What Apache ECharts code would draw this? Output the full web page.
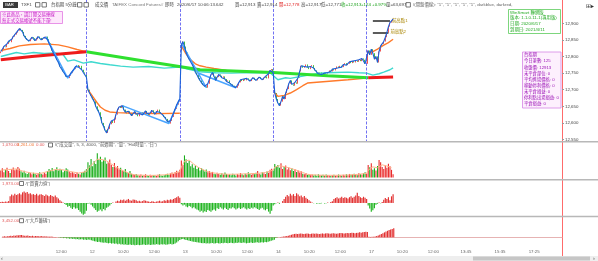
<!DOCTYPE html>
<html><head><meta charset="utf-8">
<script src="https://cdn.jsdelivr.net/npm/echarts@6/dist/echarts.min.js"></script>
<style>html,body{margin:0;padding:0;background:#fff;overflow:hidden}#c{width:598px;height:261px}</style>
</head><body><div id="c"></div>
<script>
// ================= DATA =================
// 5-minute closes, TXF1, per trading day (11 partial, 12, 13, 14, 17 partial)
const day11Close=[12815,12822,12830,12828,12838,12846,12843,12852,12860,12866,
12872,12878,12884,12880,12874,
12862,12855,12850,12846,12852,12858,12855,12848,12852,12860,12856,12850,12854,12858,12860,
12852,12840,12830,12818,12808,12800,12790,12782,12770,12764,12755,12748,12740,12735,
12742,12750,12756,12762,12770,12774,12768,12772,
12760,12752,12748,12738];
const day12Close=[12700,12690,12682,12672,12665,12650,12640,12632,12618,12600,
12590,12578,12570,12582,12596,12606,12600,12610,12625,12640,
12648,12645,12652,12640,12632,12628,12635,12630,12622,12628,
12634,12626,12620,12628,12632,12624,12630,12636,12628,12622,
12630,12638,12632,12626,12634,12640,12632,12628,12624,12618,
12612,12604,12598,12606,12618,12630,12642,12655,12664,12672];
const day13Close=[12835,12845,12830,12812,12800,12792,12786,12775,12765,12752,
12745,12735,12728,12720,12714,12710,12706,12718,12732,12745,
12752,12740,12728,12738,12746,12742,12736,12740,12732,12725,
12728,12720,12716,12712,12710,12706,12712,12722,12730,12726,
12732,12728,12734,12730,12726,12732,12736,12730,12728,12734,
12738,12732,12730,12736,12740,12734,12748,12758,12762,12752];
const day14Close=[12690,12672,12660,12652,12664,12680,12672,12690,12702,12718,
12728,12716,12712,12722,12718,12736,12755,12772,12766,12770,
12776,12768,12762,12770,12774,12765,12758,12752,12748,12752,
12746,12744,12750,12748,12752,12758,12755,12762,12758,12764,
12770,12766,12772,12768,12776,12780,12774,12778,12784,12780,
12786,12782,12788,12784,12790,12786,12794,12790,12778,12782];
const day17Close=[12818,12805,12822,12810,12792,12800,12782,12815,12832,12838,12845,12858,12872,12890,12902,12908,12913];
const dayOpen=[12810,12712,12818,12700,12778]; // open of the first bar of each day

// volume per bar
const day11Vol=[2400,3100,1800,2600,3300,2200,1500,2900,3400,2500,
2800,3600,3000,2100,1700,2300,1400,1200,1900,1500,
1100,1600,1300,900,1400,1800,1200,1000,1500,1300,
2200,2900,2500,3200,2100,2700,3500,2400,3000,2600,
1800,2300,3100,2700,2000,1600,1900,1400,1200,1700,
1300,1000,1500,1900,2300,2800];
const day12Vol=[5200,4100,6300,3800,5600,4600,8200,6100,7000,5300,
5900,6800,4700,5200,6100,4300,3600,4900,3400,3900,
2800,3300,2400,2100,2900,1800,1500,2200,1300,1100,
900,1200,800,700,1000,600,800,1100,700,500,
900,600,800,700,500,900,1100,700,600,800,
1000,1300,900,1400,1700,1200,1900,2300,1800,2600];
const day13Vol=[5800,4200,7500,6200,4900,5600,3800,4500,3300,4100,
2900,3500,2400,3100,2600,2000,2700,1800,2200,1500,
1900,1300,1100,1600,1200,900,1400,1000,1700,1200,
900,1100,800,1300,1000,700,1200,900,1500,1100,
800,1300,1000,1800,1200,900,1400,1100,1600,2200,
1300,1000,1800,1400,1200,2000,1600,2600,3000,2400];
const day14Vol=[4600,3800,4200,3300,4800,2900,3600,4100,2700,3400,
2500,3100,2200,2800,1900,2400,1700,2100,1300,1100,
1500,900,1200,800,1000,700,900,600,1100,800,
700,900,600,1000,800,700,500,800,900,600,
700,1000,800,600,900,700,1100,800,1200,900,
1000,1300,1100,800,1400,1200,1000,1500,1800,1300];
const day17Vol=[4200,3500,4800,2600,3100,2400,3900,5900,5200,3600,2900,4100,3300,4700,3800,2600,1070];
const volMA=[[0,2500],[5,2700],[10,2900],[15,2000],[20,1500],[25,1300],[30,2000],[35,2700],[40,2600],[45,2000],[50,1500],[55,2000],
[56,3000],[59,4600],[62,6200],[65,6100],[68,5600],[71,4600],[74,3500],[77,2700],[80,2000],[83,1300],[86,900],[90,800],[95,700],[100,750],[105,900],[110,1300],[115,2000],
[116,3500],[118,5500],[121,5900],[124,4500],[127,3400],[130,2600],[133,2000],[136,1600],[140,1300],[145,1100],[150,1100],[155,1200],[160,1300],[165,1400],[170,1700],[175,2500],
[176,3500],[179,4000],[182,3700],[185,3300],[188,2800],[191,2300],[194,1700],[197,1100],[200,900],[205,800],[210,750],[215,750],[220,800],[225,900],[230,1100],[235,1400],
[236,2500],[239,3600],[242,3300],[245,4300],[248,3900],[251,3300]];

// 買賣力道
const day11Force=[200,250,180,300,260,400,
1500,1900,1700,2100,1800,2000,2200,1900,2400,2600,2300,2500,2100,2200,1900,2000,1800,2100,1700,1900,2000,1800,1600,1900,1700,1500,1800,1600,1400,1700,
1300,1000,600,300,100,
-200,-500,-900,-700,-1100,-1400,-1000,-1300,-1200,-1600,-2000,-2400,-2700,-2500,-1800];
const day12Force=[-200,-100,-400,-800,
-1200,-1600,-2000,-1800,-1500,-1900,-1400,-1700,-1100,-900,-600,
-200,100,0,
300,500,400,700,600,800,500,700,900,600,500,800,700,600,400,500,300,400,600,500,400,300,200,400,300,200,300,400,500,300,400,600,500,700,600,800,700,900,
1100,1300,1500,1200];
const day13Force=[-300,-600,-400,-800,-1000,-700,-900,-1200,-1000,-1300,-1500,
-1700,-2000,-1800,-2200,-1900,-2100,-1600,-1800,-2000,-1700,-1500,-1800,
-1200,-1400,-1000,-1300,-1500,-1100,-1400,-1600,-1200,-1300,-1000,-1200,-1500,-1300,-1100,-1400,-1200,-1000,-1300,-1500,-1200,-1400,-1100,-1300,-1000,-1200,-1400,-1600,-1300,-1100,-1500,-1700,-1400,
-2000,-2500,-1800,-600];
const day14Force=[-300,-100,100,-200,0,400,
900,1400,1800,1500,2100,1700,2000,1600,2200,1900,1500,1700,1300,1600,1200,900,600,300,100,-100,0,-200,
-100,-200,-100,0,-150,-100,100,0,200,400,
900,1100,1300,1000,1200,1400,1100,1300,1200,1000,1300,1500,1200,1400,1700,2300,1600,1300,1100,1400,1200,900];
const day17Force=[-600,-1300,-2000,-1700,-1200,-400,-200,100,-100,200,700,1100,900,1300,600,1500,1973];

// 大戶籌碼
const day11Big=[300,400,350,450,500,600,550,700,650,800,750,900,850,700,650,600,700,550,500,600,
450,500,550,400,450,500,350,400,300,350,250,300,200,150,100,50,-100,-200,-150,-300,
-250,-400,-350,-500,-450,-600,-550,-700,-650,-800,-750,-700,-900,-850,-1000,-800];
const day12Big=[-900,-1100,-1300,-1500,-1600,-1800,-1700,-1900,-2000,-2100,
-2000,-2200,-2300,-2200,-2400,-2300,-2500,-2400,-2600,-2500,
-2700,-2600,-2800,-2700,-2900,-2800,-2700,-2900,-2800,-3000,
-2900,-2800,-3000,-2900,-2800,-2700,-2900,-2800,-2700,-2900,
-2800,-2700,-2800,-2600,-2700,-2800,-2600,-2700,-2600,-2800,
-2700,-2600,-2500,-2700,-2600,-2400,-2000,-1500,-1000,-700];
const day13Big=[-600,-800,-1000,-1100,-1300,-1400,-1600,-1700,-1800,-1900,
-2000,-2100,-2200,-2300,-2200,-2400,-2300,-2400,-2300,-2200,
-2400,-2300,-2200,-2300,-2400,-2200,-2300,-2100,-2200,-2300,
-2200,-2100,-2200,-2300,-2100,-2200,-2000,-2100,-2200,-2000,
-2100,-2300,-2200,-2100,-2000,-2200,-2100,-2000,-1900,-2100,
-2000,-1900,-2000,-1800,-1900,-1700,-1500,-1300,-1100,-900];
const day14Big=[-300,-100,0,100,200,300,400,500,600,800,
1000,1200,1300,1400,1300,1400,1500,1400,1300,1400,
1500,1400,1300,1400,1500,1400,1500,1400,1300,1400,
1500,1400,1500,1600,1500,1400,1500,1600,1500,1400,
1500,1600,1700,1600,1500,1600,1700,1600,1700,1800,
1700,1600,1700,1800,1900,1800,1900,2000,2100,2000];
const day17Big=[200,150,250,200,300,500,700,1000,1300,1600,1900,2200,2500,2800,3000,3200,3452];

// overlay lines on the price panel: [bar index, price]
const avgLineDays=[
 [[0,12818],[6,12824],[12,12832],[19,12836],[28,12838],[37,12835],[43,12829],[49,12821],[55,12814]],
 [[56,12700],[59,12680],[62,12660],[64,12648],[67,12638],[70,12633],[75,12631],[85,12629],[100,12628],[115,12629]],
 [[116,12832],[119,12808],[122,12790],[125,12778],[128,12772],[132,12768],[137,12764],[145,12758],[158,12754],[175,12753]],
 [[176,12690],[178,12680],[182,12683],[186,12690],[190,12700],[194,12712],[197,12720],[207,12724],[215,12727],[223,12730],[235,12735]],
 [[236,12810],[239,12815],[242,12822],[246,12834],[249,12842],[252,12852]]
];
const cyanLine=[[0,12800],[5,12806],[10,12812],[15,12808],[21,12812],[28,12809],[35,12811],[40,12806],[43,12786],[47,12790],[53,12780],[58,12784],[64,12779],[70,12775],[77,12771],[85,12768],[95,12770],[105,12765],[115,12768],[120,12762],[128,12754],[138,12751],[148,12750],[160,12752],[173,12751],[178,12730],[183,12736],[186,12734],[195,12742],[205,12750],[215,12752],[223,12753],[230,12751],[235,12750],[239,12744],[243,12748],[246,12753],[250,12760],[252,12766]];
const longMARise=[[0,12790],[20,12800],[40,12808],[55,12814]];
const longMAFall=[[55,12814],[90,12788],[128,12760],[175,12752],[210,12742],[236,12736]];
const longMARise2=[[236,12736],[252,12738]];
const zigzagSegs=[[[29,12860],[43,12735],[49,12774]],[[78,12652],[108,12598],[115,12672]],[[116,12840],[132,12706]],[[126,12752],[151,12706]]];
const prevHighs=[{name:'前高點1',value:12907,from:239,to:250},{name:'前高點2',value:12873,from:239,to:249}];
const lastPrice=12913, volLast=1070, volPrev=3261, forceLast=1973, bigLast=3452;

// x axis tick labels
const totalSlots=361;
const tickIdx=[34,56,74,94,116,134,154,176,194,214,236,254,274,295,317,339];
const tickText=['12:00','12','10:20','12:00','13','10:20','12:00','14','10:20','12:00','17','10:20','12:00','13:45','15:35','17:25'];

// ================= BUILD =================
const FONT="'Liberation Sans','Noto Sans CJK TC',sans-serif";
const UP='#ea2a2a', DN='#18ad18';
const closeDays=[day11Close,day12Close,day13Close,day14Close,day17Close];
const closes=[].concat(...closeDays);
const starts=[];{let s=0;closeDays.forEach(d=>{starts.push(s);s+=d.length;});}
const dayEnds=starts.slice(1).map(v=>v-1);
const candles=closes.map((c,i)=>{const k=starts.indexOf(i);const o=k>=0?dayOpen[k]:closes[i-1];return [o,c,Math.min(o,c),Math.max(o,c)];});
const vol=[].concat(day11Vol,day12Vol,day13Vol,day14Vol,day17Vol);
const force=[].concat(day11Force,day12Force,day13Force,day14Force,day17Force);
const big=[].concat(day11Big,day12Big,day13Big,day14Big,day17Big);
const cats=new Array(totalSlots).fill('');
tickIdx.forEach((k,j)=>{cats[k]=tickText[j];});
function joinSegs(segs){const out=[];segs.forEach((sg,j)=>{if(j>0)out.push([sg[0][0],null]);sg.forEach(p=>out.push(p));});return out;}
const fmt2=v=>v.toLocaleString('en-US',{minimumFractionDigits:2,maximumFractionDigits:2});

const grids=[
 {left:0,right:36,top:6.7,height:132.8},
 {left:0,right:36,top:148,height:29.5},
 {left:0,right:36,top:181,height:35},
 {left:0,right:36,top:218,height:29},
 {left:0,right:36,top:0,height:256}
];
const xAxes=grids.map((g,i)=>({type:'category',gridIndex:i,data:cats,boundaryGap:true,show:i===3,
 axisLine:{show:i===3,lineStyle:{color:'#e6b3b3',width:1}},axisTick:{show:false},splitLine:{show:false},
 axisLabel:{show:i===3,interval:0,fontSize:4.4,color:'#666',align:'left',margin:2.5,fontFamily:FONT}}));
const yAxes=[
 {type:'value',gridIndex:0,position:'right',min:12550,max:12950,interval:50,axisLine:{show:false},
  axisTick:{show:true,length:2,lineStyle:{color:'#999'}},splitLine:{show:false},
  axisLabel:{fontSize:4.4,color:'#444',margin:3,showMaxLabel:false,fontFamily:FONT,formatter:v=>v.toLocaleString('en-US')}},
 {type:'value',gridIndex:1,min:0,max:10000,show:false},
 {type:'value',gridIndex:2,min:-3000,max:5000,show:false},
 {type:'value',gridIndex:3,min:-3700,max:7400,show:false},
 {type:'value',gridIndex:4,min:0,max:256,inverse:true,position:'right',axisLine:{show:true,lineStyle:{color:'#ff6b6b',width:1}},axisTick:{show:false},axisLabel:{show:false},splitLine:{show:false}}
];
const lineBase={type:'line',xAxisIndex:0,yAxisIndex:0,symbol:'none',silent:true,connectNulls:false};
function tag(val,text,bg){return {yAxis:val,lineStyle:{opacity:0},label:{show:true,position:'end',formatter:text,backgroundColor:bg,color:'#fff',fontSize:4.4,fontFamily:FONT,padding:[0.8,2,0.6,2],distance:4}};}
function redTag(val){return {yAxis:val,lineStyle:{opacity:0},label:{show:true,position:'end',formatter:fmt2(val),backgroundColor:'#cc1515',color:'#fff',fontSize:4.4,fontFamily:FONT,padding:[0.8,8,0.6,2],distance:4}};}
function plain(val,text){return {yAxis:val,lineStyle:{opacity:0},label:{show:true,position:'end',formatter:text,color:'#444',fontSize:4.4,fontFamily:FONT,distance:4}};}

const series=[
 {type:'candlestick',xAxisIndex:0,yAxisIndex:0,data:candles,barWidth:'75%',silent:true,z:2,
  itemStyle:{color:UP,color0:DN,borderColor:UP,borderColor0:DN,borderWidth:0.8}},
 Object.assign({},lineBase,{data:cyanLine,lineStyle:{color:'#3fd9cf',width:1.4},z:3}),
 Object.assign({},lineBase,{data:joinSegs(avgLineDays),lineStyle:{color:'#ff7a2a',width:1.4},z:3}),
 Object.assign({},lineBase,{data:longMARise,lineStyle:{color:'#ee1b1b',width:3},z:4}),
 Object.assign({},lineBase,{data:longMAFall,lineStyle:{color:'#2fe02f',width:3},z:4}),
 Object.assign({},lineBase,{data:longMARise2,lineStyle:{color:'#ee1b1b',width:3},z:4}),
 Object.assign({},lineBase,{data:joinSegs(zigzagSegs),lineStyle:{color:'#4aa5ff',width:1.5},z:5}),
 Object.assign({},lineBase,{data:closes,lineStyle:{color:'#1b5fd9',width:1.1},z:6,
  markLine:{silent:true,symbol:'none',animation:false,data:[
   tag(lastPrice,lastPrice.toLocaleString('en-US'),'#16a316'),
   ...prevHighs.map(p=>[{coord:[p.from,p.value],lineStyle:{color:'#333',width:1.6,type:'solid'},
     label:{show:true,position:'end',formatter:p.name,color:'#a88400',fontSize:4.4,fontFamily:FONT,distance:2}},{coord:[p.to,p.value]}])
  ]}}),
 {type:'bar',xAxisIndex:1,yAxisIndex:1,silent:true,barWidth:'70%',
  data:vol.map((v,i)=>({value:v,itemStyle:{color:candles[i][1]>=candles[i][0]?UP:DN}})),
  markLine:{silent:true,symbol:'none',animation:false,data:[redTag(volLast)]}},
 {type:'line',xAxisIndex:1,yAxisIndex:1,symbol:'none',silent:true,data:volMA,lineStyle:{color:'#ffb48c',width:1},z:5},
 {type:'bar',xAxisIndex:2,yAxisIndex:2,silent:true,barWidth:'75%',
  data:force.map(v=>({value:v,itemStyle:{color:v>=0?'#e23030':'#22b522'}})),
  markLine:{silent:true,symbol:'none',animation:false,data:[redTag(forceLast),plain(0,'0.00')]}},
 {type:'bar',xAxisIndex:3,yAxisIndex:3,silent:true,barWidth:'75%',
  data:big.map(v=>({value:v,itemStyle:{color:v>=0?'#e23030':'#22b522'}})),
  markLine:{silent:true,symbol:'none',animation:false,data:[redTag(bigLast),plain(0,'0.00')]}},
 {type:'line',xAxisIndex:4,yAxisIndex:4,data:[],silent:true,
  markLine:{silent:true,symbol:'none',animation:false,label:{show:false},
   lineStyle:{color:'#7272f2',type:[3,1.5],width:1},
   data:dayEnds.map(k=>[{coord:[k,0]},{coord:[k,141]}])}}
];

// ---------- text & decoration ----------
function T(x,y,text,fill,size){return {type:'text',x:x,y:y,silent:true,z:100,style:{text:text,fill:fill||'#444',fontSize:size||4.4,fontFamily:FONT,verticalAlign:'middle',align:'left'}};}
function R(x,y,w,h,fill,stroke,lw){return {type:'rect',silent:true,z:99,shape:{x:x,y:y,width:w,height:h},style:{fill:fill,stroke:stroke||null,lineWidth:stroke?(lw||0.8):0}};}
const G=[
 // header row
 R(3,2,15,6,'#3a3a3a'),T(5.2,5,'BAR','#fff',4.2),
 T(21,5,'TXF1','#444'),R(35.5,2.6,4.4,4.4,'#fff','#555'),R(42,2.6,4.4,4.4,'#fff','#555'),
 T(51,5,'台指期 5分鐘','#444'),R(77.5,2.6,4.4,4.4,'#fff','#555'),R(84,2.6,4.4,4.4,'#fff','#555'),
 T(95,5,'成交價','#444'),T(112,5,'TAIFEX Concord Futures#','#777'),T(165,5,'即時','#444'),
 T(177,5,'2020/6/17 10:06:13.642','#444'),T(235,5,'買=12,913','#444'),T(257,5,'賣=12,914','#444'),
 T(279,5,'開=12,778','#e02020'),T(301,5,'高=12,917','#444'),T(321,5,'低=12,771','#444'),
 T(341,5,'收=12,913','#19a019'),T(361,5,'+124 +0.97%','#19a019'),T(386,5,'量=63,697','#444'),
 R(406,2.6,4.4,4.4,'#fff','#555'),T(413,5,'/(開盤價線): "1", "1", "1", "1", "1", darkblue, darkred, ','#666'),
 T(586,6,'⊞▸','#333',5.5),
 // message box
 R(0.5,11.5,62,12,'#fde7fb','#e27ae2'),T(2,14.6,'※此商品，請訂閱交易連線','#c414c4'),T(2,20.4,'無正式交易帳號不能下單!','#c414c4'),
 // WinSmart box
 R(508.5,9.5,52,24,'#ffffff','#5ccc5c'),
 T(510,12.6,'WinSmart 聯網版','#22aa22'),T(510,18.2,'版本: 1.1.0.11-1(專用版)','#22aa22'),
 T(510,23.8,'日期: 2020/6/17','#22aa22'),T(510,29.4,'到期日: 2021/4/11','#22aa22'),
 // strategy box
 R(522.5,52,38.5,56,'#fdf0fd','#d585e5'),
 ...['台指期','今日筆數: 125','收盤價: 12913','未平倉部位: 0','平均進場價格: 0','移動停利價格: 0','未平倉損益: 0','停利點出場損益: 0','平倉損益: 0']
   .map((s,i)=>T(524,55.2+i*6.1,s,'#9a10b5',4.3)),
 // panel separators
 R(0,141,598,1.5,'#b8b8b8'),R(0,179,598,1.5,'#b8b8b8'),R(0,215.7,598,1.5,'#b8b8b8'),
 // sub-panel headers
 T(2,145,fmt2(volLast),'#e35d5d'),T(17,145,fmt2(volPrev),'#f07b3c'),T(36,145,'0.00','#e35d5d'),
 R(48.5,143,4,4,'#fff','#555'),T(55,145,'/("成交量", 5, 3, 4000, "前週期", "量", "Hi4時量", "日")','#555'),
 T(2,183.5,fmt2(forceLast),'#e35d5d'),R(19.5,181.5,4,4,'#fff','#555'),T(25.5,183.5,'/("買賣力道")','#555'),
 T(2,220.7,fmt2(bigLast),'#e35d5d'),R(19.5,218.7,4,4,'#fff','#555'),T(25.5,220.7,'/("大戶籌碼")','#555'),
 // scrollbar
 R(0,256,598,5,'#eeeeee'),R(473,256.6,117,3.8,'#c6c6c6'),T(1,258.5,'‹','#555',5.5),T(593,258.5,'›','#555',5.5)
];

const chart=echarts.init(document.getElementById('c'),null,{renderer:'canvas'});
chart.setOption({animation:false,backgroundColor:'#ffffff',grid:grids,xAxis:xAxes,yAxis:yAxes,series:series,graphic:G});
</script></body></html>
